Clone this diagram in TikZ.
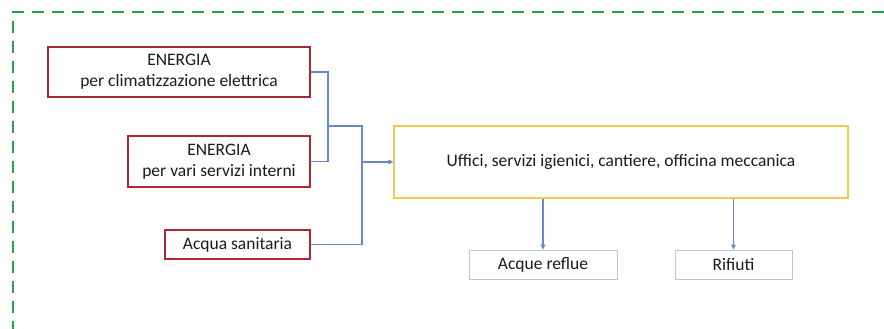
\documentclass[tikz,border=0pt]{standalone}
\usepackage{fontspec}
\setmainfont{Carlito}
\usetikzlibrary{arrows.meta}
\definecolor{frameGreen}{HTML}{1FA74E}
\definecolor{srcRed}{HTML}{B0262E}
\definecolor{hubYellow}{HTML}{F2CB4C}
\definecolor{linkBlue}{HTML}{6688CC}
\definecolor{outBlue}{HTML}{B8C6DE}
\definecolor{txt}{HTML}{1A1A1A}
\tikzset{
  boxtext/.style={align=center, text=txt, font=\fontsize{17.5}{21}\selectfont, inner sep=0pt},
  srcbox/.style={boxtext, draw=srcRed, line width=1.1pt},
  hubbox/.style={boxtext, draw=hubYellow, line width=1.1pt},
  outbox/.style={boxtext, draw=outBlue, line width=0.8pt},
  link/.style={draw=linkBlue, line width=1.1pt},
  flow/.style={link, -{Triangle[length=5pt,width=4.5pt]}}
}
\begin{document}
\begin{tikzpicture}[x=1pt,y=-1pt]
\useasboundingbox (0,0) rectangle (884,329);
% dashed boundary (top and left sides)
\draw[frameGreen, line width=2.4pt, dash pattern=on 12pt off 8pt] (884,12) -- (13,12) -- (13,329);

% inputs
\node[srcbox, minimum width=262pt, minimum height=50pt] (b1) at (179,72) {ENERGIA\\per climatizzazione elettrica};
\node[srcbox, minimum width=182pt, minimum height=51pt] (b2) at (219,161.5) {ENERGIA\\per vari servizi interni};
\node[srcbox, minimum width=145pt, minimum height=29pt] (b3) at (237.5,244.5) {Acqua sanitaria};

% main activity
\node[hubbox, minimum width=454pt, minimum height=72pt] (hub) at (621,162) {Uffici, servizi igienici, cantiere, officina meccanica};

% outputs
\node[outbox, minimum width=148pt, minimum height=29pt] (o1) at (543,264.5) {Acque reflue};
\node[outbox, minimum width=117pt, minimum height=29pt] (o2) at (733.5,264.5) {Rifiuti};

% collector lines
\coordinate (ja) at (328,126);
\coordinate (jb) at (362,162);
\draw[link] (b1.east) -| (ja);
\draw[link] (b2.east) -| (ja);
\draw[link] (ja) -| (jb);
\draw[link] (b3.east) -| (jb);
\draw[flow] (jb) -- (hub.west);

% output arrows
\draw[flow] (hub.south -| o1.north) -- (o1.north);
\draw[flow] (hub.south -| o2.north) -- (o2.north);
\end{tikzpicture}
\end{document}
